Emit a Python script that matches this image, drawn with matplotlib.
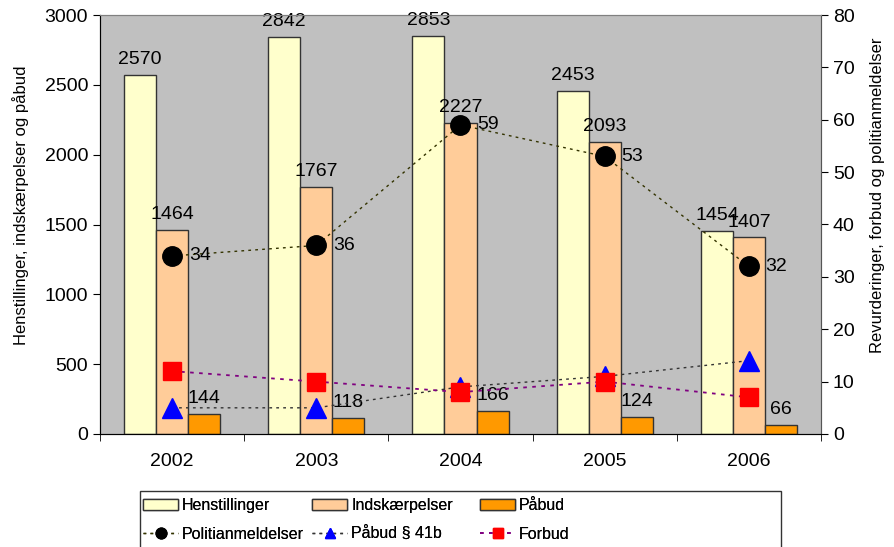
import matplotlib.pyplot as plt
from matplotlib.patches import Rectangle
import numpy as np

plt.rcParams['font.family'] = ['Liberation Sans', 'DejaVu Sans']

years = ["2002", "2003", "2004", "2005", "2006"]
henstillinger = [2570, 2842, 2853, 2453, 1454]
indskaerpelser = [1464, 1767, 2227, 2093, 1407]
paabud = [144, 118, 166, 124, 66]
politianmeldelser = [34, 36, 59, 53, 32]
paabud_41b = [5, 5, 9, 11, 14]
forbud = [12, 10, 8, 10, 7]

fig = plt.figure(figsize=(8.95, 5.47), dpi=100)
ax = fig.add_axes([100 / 895, 1 - 434 / 547, 721 / 895, 419 / 547])
ax.set_facecolor("#C0C0C0")

x = np.arange(len(years))
w = 0.222
fs = 14

bars = []
for i, (vals, col, name) in enumerate([
        (henstillinger, "#FFFFCC", "Henstillinger"),
        (indskaerpelser, "#FFCC99", "Indskærpelser"),
        (paabud, "#FF9900", "Påbud")]):
    b = ax.bar(x + (i - 1) * w, vals, w, color=col, edgecolor="#333333",
               linewidth=1, label=name, zorder=2)
    bars.append(b)
    for xi, v in zip(x + (i - 1) * w, vals):
        ax.annotate(str(v), (xi, v), xytext=(0, 5), textcoords="offset points",
                    ha="center", va="bottom", fontsize=fs, zorder=3)

ax.set_xlim(-0.5, len(years) - 0.5)
ax.set_ylim(0, 3000)
ax.set_yticks(range(0, 3001, 500))
ax.set_xticks(x)
ax.set_xticklabels(years)
ax.set_xticks(np.arange(-0.5, len(years)), minor=True)
ax.tick_params(axis="x", which="major", length=0, pad=14, labelsize=fs)
ax.tick_params(axis="x", which="minor", length=5, direction="out")
ax.tick_params(axis="y", length=5, direction="out", labelsize=fs)
ax.set_ylabel("Henstillinger, indskærpelser og påbud", fontsize=12)
ax.yaxis.set_label_coords(-0.099, 0.547)
for s in ["top", "right"]:
    ax.spines[s].set_color("#808080")
ax.spines["left"].set_color("#333333")
ax.spines["bottom"].set_color("#333333")

ax2 = ax.twinx()
ax2.set_ylim(0, 80)
ax2.set_yticks(range(0, 81, 10))
ax2.tick_params(axis="y", length=5, direction="out", labelsize=fs)
ax2.set_ylabel("Revurderinger, forbud og politianmeldelser", fontsize=12)
ax2.yaxis.set_label_coords(1.068, 0.570)
ax2.spines["right"].set_color("#555555")
ax2.spines["top"].set_color("#808080")

dot = (0, (2, 3))
l1, = ax2.plot(x, politianmeldelser, linestyle=dot, color="#333300", lw=1,
               marker="o", markersize=14, markerfacecolor="black",
               markeredgecolor="black", label="Politianmeldelser")
for xi, v in zip(x, politianmeldelser):
    ax2.annotate(str(v), (xi, v), xytext=(12, 0), textcoords="offset points",
                 ha="left", va="center", fontsize=fs)
l2, = ax2.plot(x, paabud_41b, linestyle=dot, color="#333333", lw=1,
               marker="^", markersize=14, markerfacecolor="#0000FF",
               markeredgecolor="#0000FF", label="Påbud § 41b")
l3, = ax2.plot(x, forbud, linestyle=dot, color="#800080", lw=1.3,
               marker="s", markersize=13, markerfacecolor="#FF0000",
               markeredgecolor="#FF0000", label="Forbud")

# legend: three equal-width columns inside one box, like the original
columns = [(bars[0], l1), (bars[1], l2), (bars[2], l3)]
col_x = [143, 312, 480]
for hs, cx in zip(columns, col_x):
    lg = fig.legend(hs, [h.get_label() for h in hs], loc="upper left",
                    bbox_to_anchor=(cx / 895, 1 - 498 / 547),
                    fontsize=11.5, frameon=False, borderpad=0,
                    borderaxespad=0, handlelength=2.2, handletextpad=0.25,
                    labelspacing=0.87, markerscale=0.55)
    fig.add_artist(lg)
fig.add_artist(Rectangle((140 / 895, -0.05), 641 / 895, 0.05 + 1 - 491 / 547,
                         transform=fig.transFigure, fill=False,
                         edgecolor="#333333", linewidth=1))

fig.savefig("out.png", dpi=100)
